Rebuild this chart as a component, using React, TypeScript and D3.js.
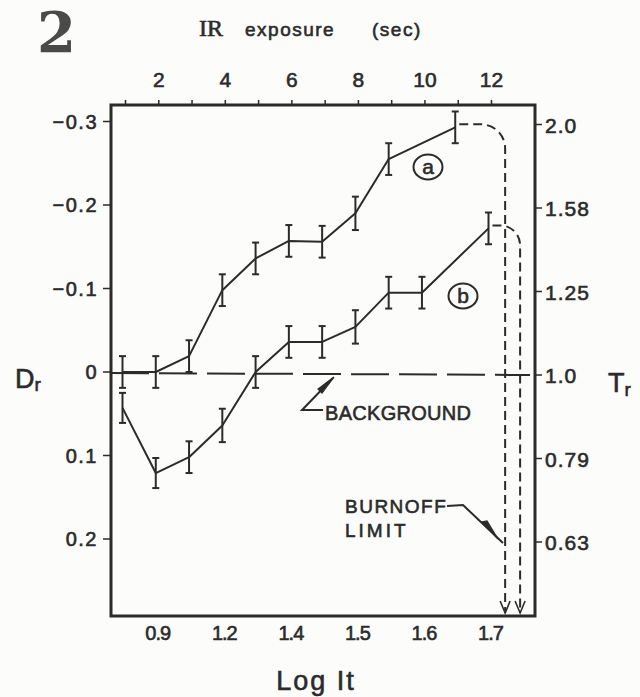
import React, { useEffect, useRef } from 'react';
import * as d3 from 'd3';

// IR exposure (sec) axis on top, Log It labels on bottom
const exposureTicks = [1, 2, 3, 4, 5, 6, 7, 8, 9, 10, 11, 12];
const topLabelSecs = [2, 4, 6, 8, 10, 12];
const topLabels = ['2', '4', '6', '8', '10', '12'];
const logItLabels = ['0.9', '1.2', '1.4', '1.5', '1.6', '1.7'];

// D_r on the left, T_r on the right (same rows)
const drTicks = [-0.3, -0.2, -0.1, 0, 0.1, 0.2];
const drLabels = ['−0.3', '−0.2', '−0.1', '0', '0.1', '0.2'];
const trLabels = ['2.0', '1.58', '1.25', '1.0', '0.79', '0.63'];

// curve (a)
const curveASec = [1, 2, 3, 4, 5, 6, 7, 8, 9, 11];
const curveADr = [0, 0, -0.019, -0.098, -0.136, -0.157, -0.156, -0.19, -0.255, -0.293];
const curveAErr = [0.019, 0.019, 0.019, 0.019, 0.019, 0.019, 0.019, 0.02, 0.019, 0.019];

// curve (b)
const curveBSec = [1, 2, 3, 4, 5, 6, 7, 8, 9, 10, 12];
const curveBDr = [0.043, 0.121, 0.102, 0.064, 0, -0.036, -0.036, -0.054, -0.095, -0.095, -0.172];
const curveBErr = [0.018, 0.018, 0.019, 0.02, 0.019, 0.019, 0.019, 0.02, 0.019, 0.019, 0.019];

// burnoff limit (in exposure sec units) for a and b
const burnoffSec = [12.5, 12.95];

const W = 640;
const H = 697;
const INK = '#2b2b2b';
const FONT = '"Liberation Sans", Arial, sans-serif';

const App: React.FC = () => {
  const svgRef = useRef<SVGSVGElement>(null);

  useEffect(() => {
    if (!svgRef.current) return;
    const svg = d3.select(svgRef.current);
    svg.selectAll('*').remove();

    const frame = { left: 111, right: 535, top: 105, bottom: 616 };

    const x = d3.scaleLinear().domain([1, 12]).range([122.5, 488.5]);
    const y = d3.scaleLinear().domain([-0.3, 0.2]).range([121.5, 539]);

    svg.append('rect').attr('width', W).attr('height', H).attr('fill', '#fcfcfa');

    // hand lettering is heavier than the plain font
    const label = (sel: d3.Selection<any, any, any, any>, size: number) =>
      sel.attr('font-family', FONT)
        .attr('font-size', size)
        .attr('fill', INK)
        .attr('stroke', INK)
        .attr('stroke-width', 0.6);

    // big figure number
    svg.append('text')
      .attr('x', 37).attr('y', 52)
      .attr('font-family', '"DejaVu Serif", serif')
      .attr('font-weight', 'bold')
      .attr('font-size', 56)
      .attr('fill', '#4a4a4a')
      .text('2');

    // top title
    svg.append('text')
      .attr('x', 199).attr('y', 36)
      .attr('font-family', '"Liberation Serif", serif')
      .attr('font-size', 24)
      .attr('fill', INK)
      .attr('stroke', INK)
      .attr('stroke-width', 0.6)
      .text('IR');
    label(svg.append('text').attr('x', 245).attr('y', 36), 19)
      .attr('letter-spacing', 1.5)
      .text('exposure');
    label(svg.append('text').attr('x', 372).attr('y', 36), 19)
      .attr('letter-spacing', 1.5)
      .text('(sec)');

    // frame
    svg.append('rect')
      .attr('x', frame.left).attr('y', frame.top)
      .attr('width', frame.right - frame.left)
      .attr('height', frame.bottom - frame.top)
      .attr('fill', 'none')
      .attr('stroke', INK)
      .attr('stroke-width', 3);

    // top ticks + labels
    svg.append('g').selectAll('line').data(exposureTicks).join('line')
      .attr('x1', d => x(d) + 3).attr('x2', d => x(d) + 3)
      .attr('y1', frame.top).attr('y2', frame.top - 5)
      .attr('stroke', INK).attr('stroke-width', 1.5);

    label(svg.append('g').selectAll('text').data(topLabels).join('text'), 21)
      .attr('x', (d, i) => x(topLabelSecs[i]) + 3)
      .attr('y', 87)
      .attr('text-anchor', 'middle')
      .text(d => d);

    // bottom labels
    label(svg.append('g').selectAll('text').data(logItLabels).join('text'), 20)
      .attr('x', (d, i) => x(topLabelSecs[i]) + 2)
      .attr('y', 640)
      .attr('text-anchor', 'middle')
      .attr('letter-spacing', -1)
      .text(d => d);

    label(svg.append('text').attr('x', 316).attr('y', 690), 27)
      .attr('text-anchor', 'middle')
      .attr('letter-spacing', 2)
      .text('Log It');

    // left axis
    svg.append('g').selectAll('line').data(drTicks).join('line')
      .attr('x1', frame.left - 8).attr('x2', frame.left)
      .attr('y1', d => y(d)).attr('y2', d => y(d))
      .attr('stroke', INK).attr('stroke-width', 1.5);
    label(svg.append('g').selectAll('text').data(drLabels).join('text'), 20)
      .attr('x', 98)
      .attr('y', (d, i) => y(drTicks[i]) + 7)
      .attr('text-anchor', 'end')
      .attr('letter-spacing', 1.5)
      .text(d => d);

    // right axis
    svg.append('g').selectAll('line').data(drTicks).join('line')
      .attr('x1', frame.right).attr('x2', frame.right + 7)
      .attr('y1', d => y(d) + 3).attr('y2', d => y(d) + 3)
      .attr('stroke', INK).attr('stroke-width', 1.5);
    label(svg.append('g').selectAll('text').data(trLabels).join('text'), 21)
      .attr('x', 545)
      .attr('y', (d, i) => y(drTicks[i]) + 11)
      .attr('letter-spacing', 1)
      .text(d => d);

    // axis titles D_r and T_r
    const dr = label(svg.append('text').attr('x', 15).attr('y', 388), 27);
    dr.append('tspan').text('D');
    dr.append('tspan').attr('font-size', 19).attr('dy', 3).text('r');

    const tr = label(svg.append('text').attr('x', 608).attr('y', 392), 27);
    tr.append('tspan').text('T');
    tr.append('tspan').attr('font-size', 19).attr('dy', 4).text('r');

    // background dashed line
    svg.append('line')
      .attr('x1', frame.left).attr('x2', 530)
      .attr('y1', y(0) + 1).attr('y2', y(0) + 3)
      .attr('stroke', INK)
      .attr('stroke-width', 2)
      .attr('stroke-dasharray', '38,10');

    // burnoff dashed paths
    const drawBurnoff = (sec: number, dr: number, xLimit: number, r: number) => {
      const x0 = x(sec) + 4;
      const y0 = y(dr) - 3;
      const path = d3.path();
      path.moveTo(x0, y0);
      path.lineTo(xLimit - r, y0);
      path.arcTo(xLimit, y0, xLimit, y0 + r, r);
      path.lineTo(xLimit, frame.bottom - 3);
      svg.append('path')
        .attr('d', path.toString())
        .attr('fill', 'none')
        .attr('stroke', INK)
        .attr('stroke-width', 2)
        .attr('stroke-dasharray', '9,5');
      // open arrowhead at the bottom
      svg.append('path')
        .attr('d', `M${xLimit - 5},${frame.bottom - 15} L${xLimit},${frame.bottom - 3} L${xLimit + 5},${frame.bottom - 15}`)
        .attr('fill', 'none')
        .attr('stroke', INK)
        .attr('stroke-width', 1.6);
    };
    drawBurnoff(curveASec[curveASec.length - 1], curveADr[curveADr.length - 1], x(burnoffSec[0]), 24);
    drawBurnoff(curveBSec[curveBSec.length - 1], curveBDr[curveBDr.length - 1], x(burnoffSec[1]), 20);

    // data curves with error bars
    const drawCurve = (secs: number[], vals: number[], errs: number[]) => {
      const pts = secs.map((s, i) => ({ s, v: vals[i], e: errs[i] }));
      svg.append('path')
        .datum(pts)
        .attr('fill', 'none')
        .attr('stroke', INK)
        .attr('stroke-width', 2)
        .attr('stroke-linejoin', 'round')
        .attr('d', d3.line<{ s: number; v: number }>()
          .x(d => x(d.s))
          .y(d => y(d.v)));

      const g = svg.append('g').attr('stroke', INK).attr('stroke-width', 2);
      pts.forEach(d => {
        const cx = x(d.s);
        const yt = y(d.v - d.e);
        const yb = y(d.v + d.e);
        g.append('line').attr('x1', cx).attr('x2', cx).attr('y1', yt).attr('y2', yb);
        g.append('line').attr('x1', cx - 3.5).attr('x2', cx + 3.5).attr('y1', yt).attr('y2', yt);
        g.append('line').attr('x1', cx - 3.5).attr('x2', cx + 3.5).attr('y1', yb).attr('y2', yb);
      });
    };
    drawCurve(curveASec, curveADr, curveAErr);
    drawCurve(curveBSec, curveBDr, curveBErr);

    // circled labels
    const circled = (cx: number, cy: number, letter: string) => {
      svg.append('ellipse')
        .attr('cx', cx).attr('cy', cy)
        .attr('rx', 14.5).attr('ry', 12.5)
        .attr('fill', 'none')
        .attr('stroke', INK)
        .attr('stroke-width', 2);
      label(svg.append('text').attr('x', cx).attr('y', cy + 7), 21)
        .attr('text-anchor', 'middle')
        .text(letter);
    };
    circled(428, 167, 'a');
    circled(463, 296, 'b');

    // BACKGROUND annotation
    svg.append('path')
      .attr('d', 'M323,410 L302,410 L333,378')
      .attr('fill', 'none')
      .attr('stroke', INK)
      .attr('stroke-width', 2);
    svg.append('path')
      .attr('d', 'M334,377 L318,389 L322,393 Z')
      .attr('fill', INK)
      .attr('stroke', INK)
      .attr('stroke-width', 1.2);
    label(svg.append('text').attr('x', 325).attr('y', 420), 20)
      .attr('letter-spacing', 0.3)
      .text('BACKGROUND');

    // BURNOFF LIMIT annotation
    label(svg.append('text').attr('x', 345).attr('y', 513), 19)
      .attr('letter-spacing', 1.5)
      .text('BURNOFF');
    label(svg.append('text').attr('x', 345).attr('y', 537), 19)
      .attr('letter-spacing', 3)
      .text('LIMIT');
    svg.append('path')
      .attr('d', 'M447,506 L463,505 L503,543')
      .attr('fill', 'none')
      .attr('stroke', INK)
      .attr('stroke-width', 2);
    svg.append('path')
      .attr('d', 'M498,539 L482,522 L487,521 Z')
      .attr('fill', INK)
      .attr('stroke', INK)
      .attr('stroke-width', 1.2);
  }, []);

  return (
    <div style={{ position: 'absolute', left: 0, top: 0 }}>
      <svg ref={svgRef} width={W} height={H} style={{ display: 'block' }} />
    </div>
  );
};

export default App;
